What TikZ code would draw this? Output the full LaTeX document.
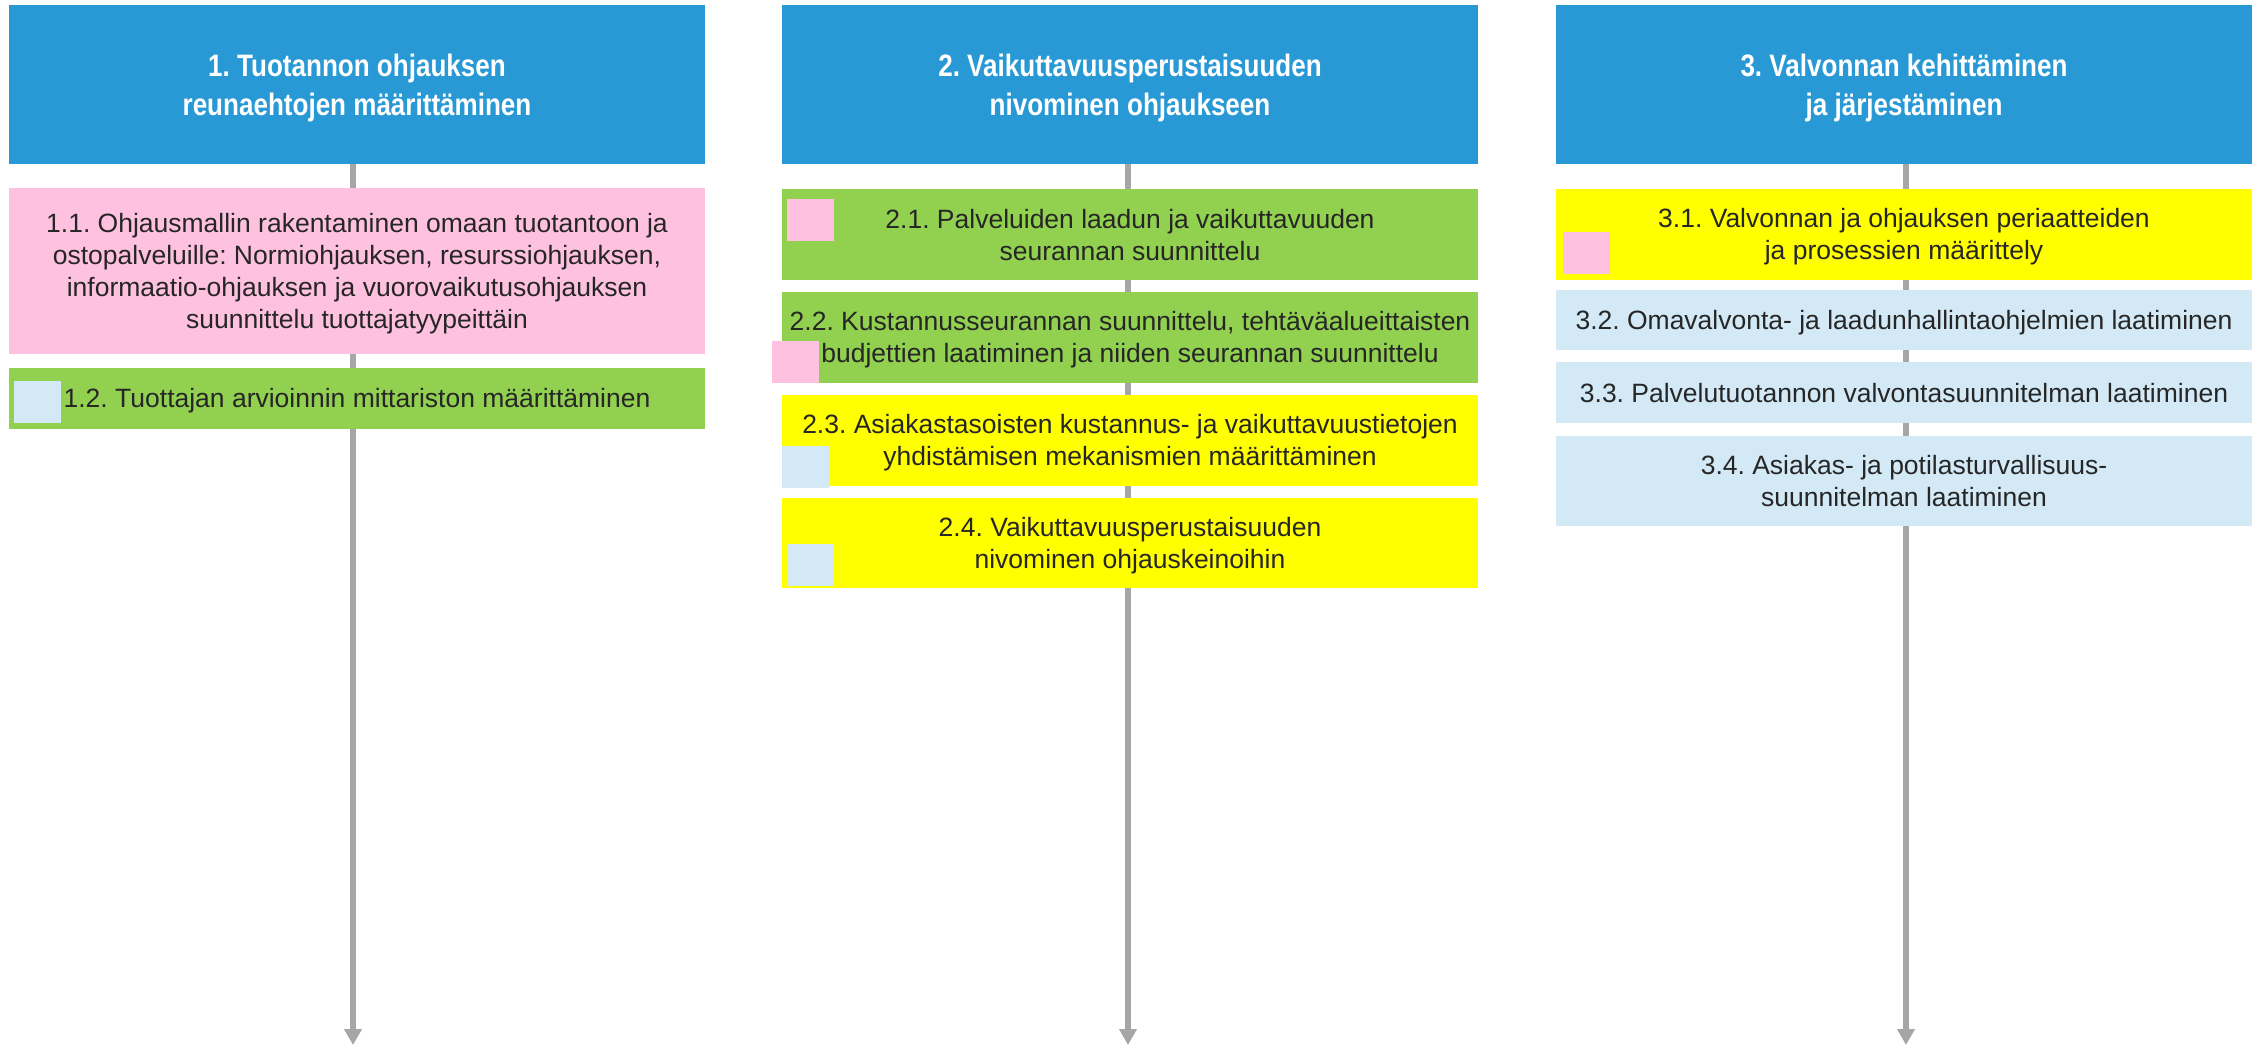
\documentclass[tikz,border=0pt]{standalone}
\usepackage{fontspec}
\setmainfont{Liberation Sans}
\newfontfamily\titlefont[FakeStretch=0.84]{Liberation Sans}
\usetikzlibrary{arrows.meta,backgrounds}
\definecolor{hblue}{HTML}{2899D5}
\definecolor{pinkc}{HTML}{FFC1E0}
\definecolor{greenc}{HTML}{92D050}
\definecolor{yellowc}{HTML}{FFFF00}
\definecolor{lblue}{HTML}{D3E9F5}
\definecolor{txtc}{HTML}{262626}
\definecolor{arrowc}{HTML}{A6A6A6}
\newcommand{\mystrut}{\rule[-0.15em]{0pt}{1.05em}}
\newcommand{\tstrut}{\rule[-0.1em]{0pt}{1.08em}}
\tikzset{
  head/.style={fill=hblue, text=white, font=\frenchspacing\titlefont\bfseries\fontsize{31pt}{39pt}\selectfont, align=center, inner sep=0pt, outer sep=0pt, anchor=north west, minimum width=696pt, minimum height=159pt},
  item/.style 2 args={fill=#1, minimum height=#2, text=txtc, font=\frenchspacing\fontsize{26.5pt}{32pt}\selectfont, align=center, inner sep=0pt, outer sep=0pt, anchor=north west, minimum width=696pt},
  tag/.style={fill=#1, inner sep=0pt, outer sep=0pt, anchor=north west, minimum width=47pt, minimum height=42pt},
  flow/.style={draw=arrowc, line width=6pt, -{Triangle[length=16pt,width=17pt]}}
}
\begin{document}
\frenchspacing
\begin{tikzpicture}[x=1pt,y=-1pt]
\useasboundingbox (0,0) rectangle (2254,1045);
% column 1
\node[head] (h1) at (9,5) {\tstrut 1. Tuotannon ohjauksen\\\tstrut reunaehtojen määrittäminen};
\node[item={pinkc}{166pt}] (b11) at (9,188) {\mystrut 1.1. Ohjausmallin rakentaminen omaan tuotantoon ja\\\mystrut ostopalveluille: Normiohjauksen, resurssiohjauksen,\\\mystrut informaatio-ohjauksen ja vuorovaikutusohjauksen\\\mystrut suunnittelu tuottajatyypeittäin};
\node[item={greenc}{61pt}] (b12) at (9,368) {\mystrut 1.2. Tuottajan arvioinnin mittariston määrittäminen};
\node[tag=lblue] (s12) at (14,381) {};
% column 2
\node[head] (h2) at (782,5) {\tstrut 2. Vaikuttavuusperustaisuuden\\\tstrut nivominen ohjaukseen};
\node[item={greenc}{91pt}] (b21) at (782,189) {\mystrut 2.1. Palveluiden laadun ja vaikuttavuuden\\\mystrut seurannan suunnittelu};
\node[item={greenc}{91pt}] (b22) at (782,292) {\mystrut 2.2. Kustannusseurannan suunnittelu, tehtäväalueittaisten\\\mystrut budjettien laatiminen ja niiden seurannan suunnittelu};
\node[item={yellowc}{91pt}] (b23) at (782,395) {\mystrut 2.3. Asiakastasoisten kustannus- ja vaikuttavuustietojen\\\mystrut yhdistämisen mekanismien määrittäminen};
\node[item={yellowc}{90pt}] (b24) at (782,498) {\mystrut 2.4. Vaikuttavuusperustaisuuden\\\mystrut nivominen ohjauskeinoihin};
\node[tag=pinkc] (s21) at (787,199) {};
\node[tag=pinkc] (s22) at (772,341) {};
\node[tag=lblue] (s23) at (782,446) {};
\node[tag=lblue] (s24) at (787,544) {};
% column 3
\node[head] (h3) at (1556,5) {\tstrut 3. Valvonnan kehittäminen\\\tstrut ja järjestäminen};
\node[item={yellowc}{91pt}] (b31) at (1556,189) {\mystrut 3.1. Valvonnan ja ohjauksen periaatteiden\\\mystrut ja prosessien määrittely};
\node[item={lblue}{60pt}] (b32) at (1556,290) {\mystrut 3.2. Omavalvonta- ja laadunhallintaohjelmien laatiminen};
\node[item={lblue}{61pt}] (b33) at (1556,362) {\mystrut 3.3. Palvelutuotannon valvontasuunnitelman laatiminen};
\node[item={lblue}{90pt}] (b34) at (1556,436) {\mystrut 3.4. Asiakas- ja potilasturvallisuus-\\\mystrut suunnitelman laatiminen};
\node[tag=pinkc] (s31) at (1563,232) {};
% flow lines behind boxes
\begin{pgfonlayer}{background}
\fill[white] (0,0) rectangle (2254,1045);
\coordinate (e1) at (353,1045);
\coordinate (e2) at (1128,1045);
\coordinate (e3) at (1906,1045);
\draw[flow] (e1 |- h1.south) -- (e1);
\draw[flow] (e2 |- h2.south) -- (e2);
\draw[flow] (e3 |- h3.south) -- (e3);
\end{pgfonlayer}
\end{tikzpicture}
\end{document}
